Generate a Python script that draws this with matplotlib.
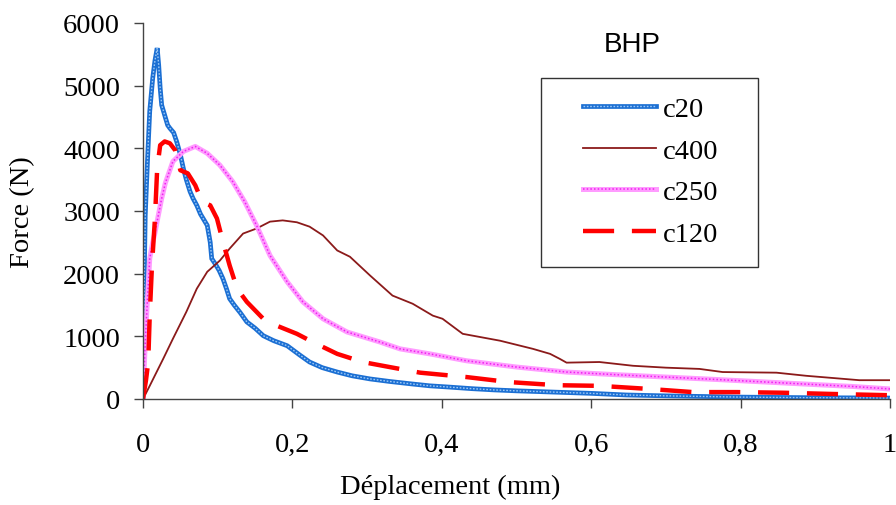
import matplotlib
matplotlib.use('Agg')
import matplotlib.pyplot as plt
from matplotlib.patches import Rectangle

# c20
x_c20 = [0, 0.001, 0.002, 0.003, 0.006, 0.009, 0.013, 0.016, 0.019, 0.021, 0.023, 0.025,
         0.029, 0.033, 0.036, 0.041, 0.045, 0.050, 0.054, 0.058, 0.063, 0.067, 0.072, 0.077,
         0.083, 0.086, 0.090, 0.092, 0.097, 0.102, 0.107, 0.112, 0.116, 0.122, 0.13, 0.139,
         0.15, 0.161, 0.175, 0.193, 0.21, 0.223, 0.24, 0.26, 0.28, 0.304, 0.33, 0.36, 0.384,
         0.41, 0.44, 0.47, 0.5, 0.55, 0.6, 0.647, 0.7, 0.75, 0.8, 0.85, 0.9, 0.95, 1.0]
y_c20 = [0, 1200, 2200, 2930, 3800, 4590, 5120, 5400, 5600, 5330, 4960, 4690,
         4530, 4370, 4320, 4250, 4110, 3900, 3680, 3500, 3310, 3200, 3090, 2950,
         2830, 2770, 2500, 2240, 2150, 2050, 1920, 1750, 1600, 1500, 1380, 1230,
         1130, 1010, 930, 850, 700, 590, 500, 430, 370, 320, 280, 240, 210,
         190, 165, 145, 130, 110, 90, 64, 50, 40, 30, 25, 20, 18, 15]

# c400
x_c400 = [0, 0.009, 0.027, 0.04, 0.058, 0.072, 0.086, 0.103, 0.116, 0.134, 0.152, 0.17,
          0.187, 0.206, 0.223, 0.241, 0.26, 0.277, 0.304, 0.334, 0.361, 0.388, 0.401,
          0.428, 0.478, 0.522, 0.545, 0.558, 0.567, 0.611, 0.656, 0.7, 0.745, 0.776,
          0.848, 0.888, 0.959, 1.0]
y_c400 = [0, 210, 640, 960, 1390, 1760, 2030, 2210, 2400, 2640, 2720, 2830,
          2850, 2820, 2750, 2610, 2370, 2270, 1970, 1650, 1520, 1330, 1280,
          1040, 930, 800, 720, 640, 580, 590, 530, 500, 480, 430,
          420, 370, 300, 300]

# c250
x_c250 = [0, 0.003, 0.006, 0.009, 0.013, 0.016, 0.020, 0.025, 0.03, 0.04, 0.054, 0.07,
          0.086, 0.103, 0.12, 0.136, 0.152, 0.17, 0.193, 0.214, 0.241, 0.273, 0.317,
          0.344, 0.384, 0.433, 0.5, 0.567, 0.63, 0.7, 0.77, 0.835, 0.9, 0.95, 1.0]
y_c250 = [0, 900, 1600, 2240, 2500, 2650, 2900, 3200, 3450, 3790, 3950, 4030,
          3920, 3730, 3470, 3150, 2770, 2290, 1870, 1550, 1280, 1070, 910,
          800, 720, 610, 510, 430, 390, 350, 310, 270, 230, 200, 160]

# c120
x_c120 = [0, 0.004, 0.007, 0.009, 0.012, 0.016, 0.019, 0.023, 0.029, 0.036, 0.043, 0.05,
          0.06, 0.07, 0.079, 0.09, 0.099, 0.107, 0.116, 0.126, 0.139, 0.161, 0.179,
          0.206, 0.227, 0.26, 0.294, 0.33, 0.371, 0.433, 0.49, 0.554, 0.611, 0.678,
          0.736, 0.795, 0.856, 0.923, 1.0]
y_c120 = [0, 300, 590, 1330, 2130, 2880, 3680, 4050, 4110, 4080, 3970, 3650,
          3600, 3410, 3150, 3090, 2880, 2510, 2130, 1760, 1550, 1280, 1170,
          1040, 910, 720, 590, 510, 420, 350, 270, 220, 210, 160,
          110, 110, 100, 80, 60]

x_ticks = [0, 0.2, 0.4, 0.6, 0.8, 1.0]
x_ticklabels = ['0', '0,2', '0,4', '0,6', '0,8', '1']
y_ticks = [0, 1000, 2000, 3000, 4000, 5000, 6000]

plt.rcParams['font.family'] = ['Liberation Serif', 'DejaVu Serif']

fig = plt.figure(figsize=(8.96, 5.06), dpi=100)
ax = fig.add_axes([0.1596, 0.2095, 0.8337, 0.7431])

# c20: blue band with light squares
l20a, = ax.plot(x_c20, y_c20, color='#1b6fd3', lw=3.4, solid_joinstyle='miter')
l20b, = ax.plot(x_c20, y_c20, color='#9cc8f5', lw=1.0, linestyle=(0, (1.2, 1.2)))
# c400: thin dark red
l400, = ax.plot(x_c400, y_c400, color='#8b1a1a', lw=1.3)
# c250: pink band with magenta dots
l250a, = ax.plot(x_c250, y_c250, color='#ff9cff', lw=3.6)
l250b, = ax.plot(x_c250, y_c250, color='#f020f0', lw=1.1, linestyle=(0, (1, 1.4)))
# c120: thick red dashes
l120, = ax.plot(x_c120, y_c120, color='#ff0000', lw=3.2, linestyle=(0, (7, 4)))

ax.set_xlim(0, 1)
ax.set_ylim(0, 6000)
ax.set_xticks(x_ticks)
ax.set_xticklabels(x_ticklabels)
ax.set_yticks(y_ticks)

for s in ['top', 'right']:
    ax.spines[s].set_visible(False)
for s in ['left', 'bottom']:
    ax.spines[s].set_color('#444444')
    ax.spines[s].set_linewidth(1.0)

ax.tick_params(axis='both', direction='out', length=6.5, width=1, color='#444444',
               labelsize=20.5)
ax.tick_params(axis='y', pad=10)
ax.tick_params(axis='x', pad=17)

ax.set_xlabel('Déplacement (mm)', fontsize=20.5)
ax.xaxis.set_label_coords(0.411, -0.198)
ax.set_ylabel('Force (N)', fontsize=20.5)
ax.yaxis.set_label_coords(-0.145, 0.5)

fig.text(632 / 896, 1 - 45 / 506, 'BHP', fontsize=20, family='Liberation Sans',
         ha='center', va='center')

# legend box drawn separately, entries without frame
fig.patches.append(Rectangle((541 / 896, 1 - 268 / 506), (758 - 541) / 896,
                             (268 - 78.7) / 506, transform=fig.transFigure,
                             fill=False, edgecolor='#333333', lw=1.0))
leg = fig.legend([(l20a, l20b), l400, (l250a, l250b), l120],
                 ['c20', 'c400', 'c250', 'c120'],
                 loc='center left', bbox_to_anchor=(583 / 896, 1 - 172.5 / 506),
                 bbox_transform=fig.transFigure, frameon=False, fontsize=20.5,
                 borderpad=0, borderaxespad=0, handlelength=2.55, handletextpad=0.25,
                 labelspacing=0.55)

fig.savefig('out.png', dpi=100)
